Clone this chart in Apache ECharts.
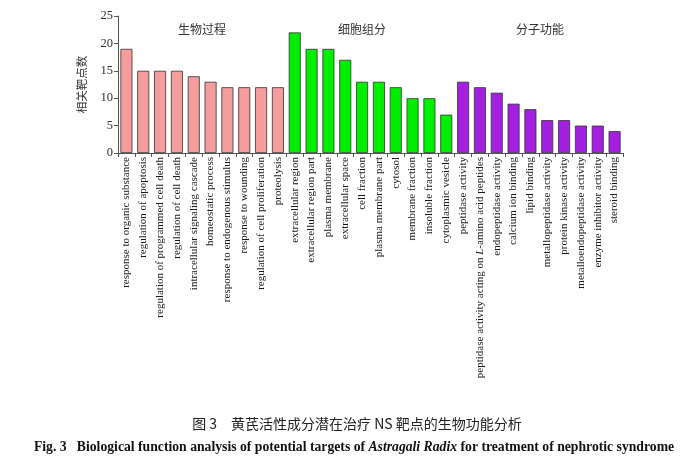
<!DOCTYPE html>
<html>
<head>
<meta charset="utf-8">
<script src="https://cdn.jsdelivr.net/npm/echarts@6/dist/echarts.min.js"></script>
<style>
  html, body { margin: 0; padding: 0; background: #fff; }
  #chart { width: 684px; height: 466px; }
</style>
</head>
<body>
<div id="chart"></div>
<script>
// 生物过程
var bpLabels = ['response to organic substance', 'regulation of apoptosis', 'regulation of programmed cell death',
    'regulation of cell death', 'intracellular signaling cascade', 'homeostatic process',
    'response to endogenous stimulus', 'response to wounding', 'regulation of cell proliferation', 'proteolysis'];
var bpValues = [19, 15, 15, 15, 14, 13, 12, 12, 12, 12];

// 细胞组分
var ccLabels = ['extracellular region', 'extracellular region part', 'plasma membrane', 'extracellular space',
    'cell fraction', 'plasma membrane part', 'cytosol', 'membrane fraction', 'insoluble fraction', 'cytoplasmic vesicle'];
var ccValues = [22, 19, 19, 17, 13, 13, 12, 10, 10, 7];

// 分子功能
var mfLabels = ['peptidase activity', 'peptidase activity acting on L-amino acid peptides', 'endopeptidase activity',
    'calcium ion binding', 'lipid binding', 'metallopeptidase activity', 'protein kinase activity',
    'metalloendopeptidase activity', 'enzyme inhibitor activity', 'steroid binding'];
var mfValues = [13, 12, 11, 9, 8, 6, 6, 5, 5, 4];

var groupNames = ['生物过程', '细胞组分', '分子功能'];
var groupColors = ['#f59c9c', '#00ee00', '#a51fe0'];
var yTicks = [0, 5, 10, 15, 20, 25];

var chart = echarts.init(document.getElementById('chart'));

var categories = bpLabels.concat(ccLabels, mfLabels);
var barData = [];
[bpValues, ccValues, mfValues].forEach(function (vals, g) {
    vals.forEach(function (v) {
        barData.push({ value: v, itemStyle: { color: groupColors[g] } });
    });
});

var serif = '"Liberation Serif", "Times New Roman", serif';
var cjk = '"Noto Sans CJK SC", sans-serif';

// group titles above the bars
var groupX = [202, 362, 540];
var graphics = groupNames.map(function (name, i) {
    return {
        type: 'text', x: groupX[i], y: 29,
        style: { text: name, font: '12px ' + cjk, fill: '#333', align: 'center', verticalAlign: 'middle' }
    };
});

// captions below the chart
graphics.push({
    type: 'text', x: 357, y: 424,
    style: {
        text: '图 3　黄芪活性成分潜在治疗 NS 靶点的生物功能分析',
        font: '14px ' + cjk, fill: '#222', align: 'center', verticalAlign: 'middle'
    }
});
graphics.push({
    type: 'text', x: 354, y: 447,
    style: {
        text: '{b|Fig. 3   Biological function analysis of potential targets of }{i|Astragali Radix}{b| for treatment of nephrotic syndrome}',
        align: 'center', verticalAlign: 'middle',
        rich: {
            b: { fontFamily: serif, fontSize: 13.7, fontWeight: 'bold', fill: '#111' },
            i: { fontFamily: serif, fontSize: 13.7, fontWeight: 'bold', fontStyle: 'italic', fill: '#111' }
        }
    }
});

var option = {
    backgroundColor: '#fff',
    animation: false,
    grid: { left: 118, top: 16, width: 505, bottom: 313 },
    xAxis: {
        type: 'category',
        data: categories,
        axisLine: { lineStyle: { color: '#555', width: 1 } },
        axisTick: { show: true, interval: 0, length: 4, lineStyle: { color: '#555' } },
        axisLabel: {
            interval: 0,
            rotate: 90,
            margin: 4,
            fontFamily: serif,
            fontSize: 11,
            color: '#1a1a1a',
            // italic "L" in the amino acid label
            formatter: function (val) {
                var k = val.indexOf(' L-');
                if (k < 0) return '{r|' + val + '}';
                return '{r|' + val.slice(0, k + 1) + '}{i|L}{r|' + val.slice(k + 2) + '}';
            },
            rich: {
                r: { fontFamily: serif, fontSize: 11, color: '#1a1a1a' },
                i: { fontFamily: serif, fontSize: 11, fontStyle: 'italic', color: '#1a1a1a' }
            }
        }
    },
    yAxis: {
        type: 'value',
        min: yTicks[0],
        max: yTicks[yTicks.length - 1],
        interval: 5,
        name: '相关靶点数',
        nameLocation: 'middle',
        nameRotate: 90,
        nameGap: 31,
        nameTextStyle: { fontFamily: cjk, fontSize: 11.5, color: '#333' },
        axisLine: { show: true, lineStyle: { color: '#555', width: 1 } },
        axisTick: { show: true, length: 4, lineStyle: { color: '#555' } },
        splitLine: { show: false },
        axisLabel: { fontFamily: serif, fontSize: 12.5, color: '#333', margin: 5 }
    },
    series: [{
        type: 'bar',
        data: barData,
        barWidth: 12,
        itemStyle: { borderColor: '#333', borderWidth: 0.8 }
    }],
    graphic: graphics
};
chart.setOption(option);
</script>
</body>
</html>
